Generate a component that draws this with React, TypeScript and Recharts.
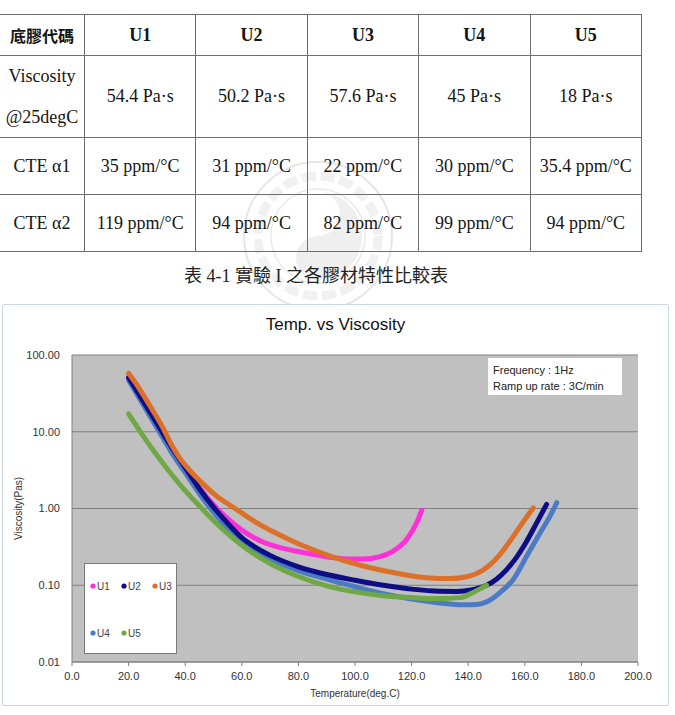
import React from 'react';
import { LineChart, Line, XAxis, YAxis, CartesianGrid, Legend } from 'recharts';

// ---- property table ----
const materials = ['U1', 'U2', 'U3', 'U4', 'U5'];
const viscosityAt25 = ['54.4 Pa·s', '50.2 Pa·s', '57.6 Pa·s', '45 Pa·s', '18 Pa·s'];
const cteAlpha1 = ['35 ppm/°C', '31 ppm/°C', '22 ppm/°C', '30 ppm/°C', '35.4 ppm/°C'];
const cteAlpha2 = ['119 ppm/°C', '94 ppm/°C', '82 ppm/°C', '99 ppm/°C', '94 ppm/°C'];

// ---- viscosity curves (temperature in deg.C, viscosity in Pa·s) ----
const u1Temp = [20, 25, 30, 35, 40, 45, 50, 54, 58, 62, 67, 73, 79, 85, 91, 97, 103, 108.8, 113.5, 118.3, 121.8, 123.6];
const u1Visc = [50.1, 25.1, 12.6, 6.31, 3.39, 1.86, 1.12, 0.794, 0.596, 0.468, 0.372, 0.313, 0.279, 0.253, 0.232, 0.22, 0.219, 0.236, 0.279, 0.398, 0.652, 0.95];

const u2Temp = [20, 25, 30, 35, 40, 45, 50, 55, 60, 65, 70, 80, 90, 100, 110, 120, 130, 136, 141, 146.5, 150, 153.6, 157, 160, 164.2, 167.7];
const u2Visc = [51.1, 25.6, 12.8, 6.43, 3.41, 1.81, 1.04, 0.643, 0.417, 0.309, 0.245, 0.174, 0.138, 0.116, 0.1, 0.089, 0.0836, 0.0832, 0.087, 0.1, 0.12, 0.16, 0.229, 0.339, 0.65, 1.13];

const u3Temp = [20, 24, 28, 32, 35, 38, 42, 46, 51, 57.6, 65, 72, 80, 91.2, 102.9, 114.7, 126.5, 133.6, 139.5, 145.3, 151.2, 156, 160, 163];
const u3Visc = [57.8, 35.5, 20.4, 11.5, 6.92, 4.57, 3.02, 2.14, 1.46, 1.0, 0.661, 0.479, 0.347, 0.24, 0.178, 0.143, 0.124, 0.122, 0.129, 0.158, 0.251, 0.437, 0.716, 1.02];

const u4Temp = [20, 25, 30, 35, 40, 45, 50, 55, 60, 65, 70, 80, 90, 100, 110, 120, 130, 138, 143, 147, 151.2, 156, 160.7, 165.4, 168.9, 171.3];
const u4Visc = [47, 23, 11.3, 5.52, 2.93, 1.56, 0.895, 0.552, 0.372, 0.275, 0.219, 0.155, 0.12, 0.0955, 0.0776, 0.0661, 0.0589, 0.0556, 0.0562, 0.0617, 0.08, 0.12, 0.24, 0.481, 0.794, 1.19];

const u5Temp = [20, 25, 30, 35, 40, 45, 50, 55, 60, 65, 70, 80, 90, 100, 110, 120, 130, 137, 141, 144, 146.5];
const u5Visc = [17.1, 8.97, 4.93, 2.84, 1.71, 1.08, 0.697, 0.471, 0.333, 0.247, 0.192, 0.13, 0.098, 0.082, 0.073, 0.069, 0.067, 0.069, 0.078, 0.089, 0.1];

// ---- axes ----
const xTicks = [0, 20, 40, 60, 80, 100, 120, 140, 160, 180, 200];
const yDecades = [0.01, 0.1, 1, 10, 100];
const yMinor = yDecades.slice(0, -1).flatMap((d) => [2, 3, 4, 5, 6, 7, 8, 9].map((m) => d * m));

const seriesColors: Record<string, string> = {
  U1: '#ff30d8',
  U2: '#0d0d86',
  U3: '#dd7028',
  U4: '#4b7bc4',
  U5: '#6fa845',
};

const toPoints = (temps: number[], visc: number[]) => temps.map((t, i) => ({ t, v: visc[i] }));

// drawing order: later series sit on top
const series = [
  { name: 'U1', data: toPoints(u1Temp, u1Visc) },
  { name: 'U4', data: toPoints(u4Temp, u4Visc) },
  { name: 'U2', data: toPoints(u2Temp, u2Visc) },
  { name: 'U3', data: toPoints(u3Temp, u3Visc) },
  { name: 'U5', data: toPoints(u5Temp, u5Visc) },
];

const sans = "'Liberation Sans', Arial, sans-serif";
const serif = "'Liberation Serif', 'Times New Roman', 'Noto Sans CJK TC', serif";
const cjk = "'Noto Sans CJK TC', sans-serif";

const cellBase: React.CSSProperties = {
  borderRight: '1px solid #6e6e6e',
  borderBottom: '1px solid #6e6e6e',
  display: 'flex',
  alignItems: 'center',
  justifyContent: 'center',
  textAlign: 'center',
  fontFamily: serif,
  fontSize: 18,
  color: '#151515',
  boxSizing: 'border-box',
};

// faint seal printed behind the table (rings and emblem only)
function Seal() {
  return (
    <svg width={160} height={160} style={{ position: 'absolute', left: 238, top: 156 }}>
      <circle cx={80} cy={80} r={74} fill="none" stroke="#e6e6e6" strokeWidth={2} />
      <circle cx={80} cy={80} r={60} fill="none" stroke="#f1f1f1" strokeWidth={9} strokeDasharray="14 5" />
      <circle cx={80} cy={80} r={47} fill="none" stroke="#eaeaea" strokeWidth={1.5} />
      <path d="M 80 36 A 44 44 0 0 1 80 124 A 22 22 0 0 1 80 80 A 22 22 0 0 0 80 36 Z" fill="#efefef" />
    </svg>
  );
}

function PropertyTable() {
  const rowLabels = [
    <span key="v" style={{ lineHeight: '41px' }}>Viscosity<br />@25degC</span>,
    'CTE α1',
    'CTE α2',
  ];
  const rows = [viscosityAt25, cteAlpha1, cteAlpha2];
  return (
    <div
      style={{
        position: 'absolute',
        left: -1,
        top: 14,
        display: 'grid',
        gridTemplateColumns: '85px repeat(5, 111.4px)',
        gridTemplateRows: '41px 82px 57px 57px',
        borderTop: '1px solid #6e6e6e',
        borderLeft: '1px solid #6e6e6e',
      }}
    >
      <div style={{ ...cellBase, fontFamily: cjk, fontWeight: 700, fontSize: 16 }}>底膠代碼</div>
      {materials.map((m) => (
        <div key={m} style={{ ...cellBase, fontWeight: 700 }}>{m}</div>
      ))}
      {rows.map((row, r) => (
        <React.Fragment key={r}>
          <div style={cellBase}>{rowLabels[r]}</div>
          {row.map((val, c) => (
            <div key={c} style={cellBase}>{val}</div>
          ))}
        </React.Fragment>
      ))}
    </div>
  );
}

function LegendBox(props: any) {
  const payload: any[] = props.payload || [];
  const ordered = materials.map((m) => payload.find((p) => p.value === m)).filter(Boolean);
  return (
    <svg width={93} height={91} style={{ display: 'block' }}>
      <rect x={0.5} y={0.5} width={92} height={90} fill="#ffffff" stroke="#7a7a7a" />
      {ordered.map((p, i) => {
        const cx = 9 + (i % 3) * 31;
        const cy = i < 3 ? 23 : 70;
        return (
          <g key={p.value}>
            <circle cx={cx} cy={cy} r={2.6} fill={p.color} />
            <text x={cx + 4} y={cy + 3.5} fontSize={10} fontFamily={sans} fill="#444">
              {p.value}
            </text>
          </g>
        );
      })}
    </svg>
  );
}

function YTitle(props: any) {
  const vb = props.viewBox || {};
  const x = vb.x + 15;
  const y = vb.y + vb.height / 2;
  return (
    <text
      x={x}
      y={y}
      transform={`rotate(-90, ${x}, ${y})`}
      textAnchor="middle"
      dominantBaseline="central"
      fontSize={10}
      fontFamily={sans}
      fill="#333"
    >
      Viscosity(Pas)
    </text>
  );
}

export default function App() {
  return (
    <div style={{ position: 'absolute', left: 0, top: 0, width: 675, height: 715, background: '#fff', overflow: 'hidden' }}>
      <Seal />
      <PropertyTable />

      <div
        style={{
          position: 'absolute',
          left: 0,
          width: 632,
          top: 261,
          textAlign: 'center',
          fontFamily: serif,
          fontSize: 18,
          color: '#222',
        }}
      >
        表 4-1 實驗 I 之各膠材特性比較表
      </div>

      <div
        style={{
          position: 'absolute',
          left: 2,
          top: 304,
          width: 667,
          height: 402,
          boxSizing: 'border-box',
          border: '1px solid #c9d8e2',
          borderRadius: 2,
          background: '#fff',
        }}
      >
        <div
          style={{
            position: 'absolute',
            left: 0,
            width: 665,
            top: 10,
            textAlign: 'center',
            fontFamily: sans,
            fontSize: 17,
            color: '#111',
          }}
        >
          Temp. vs Viscosity
        </div>

        <LineChart width={665} height={400} margin={{ top: 50, right: 30, left: 0, bottom: 0 }}>
          <CartesianGrid vertical={false} stroke="#808080" fill="#c0c0c0" fillOpacity={1} />
          <XAxis
            type="number"
            dataKey="t"
            domain={[0, 200]}
            ticks={xTicks}
            allowDataOverflow
            tickFormatter={(v: number) => v.toFixed(1)}
            height={43}
            tickSize={4}
            tickMargin={6}
            stroke="#808080"
            tick={{ fill: '#333', fontSize: 11, fontFamily: sans }}
            label={{ value: 'Temperature(deg.C)', position: 'insideBottom', offset: 8, fontSize: 10, fontFamily: sans, fill: '#333' }}
          />
          <YAxis
            type="number"
            scale="log"
            domain={[0.01, 100]}
            ticks={yDecades}
            allowDataOverflow
            tickFormatter={(v: number) => v.toFixed(2)}
            width={69}
            tickLine={false}
            tickSize={6}
            tickMargin={6}
            stroke="#808080"
            tick={{ fill: '#333', fontSize: 11, fontFamily: sans }}
            label={{ content: YTitle }}
          />
          <YAxis
            yAxisId="minor"
            type="number"
            scale="log"
            domain={[0.01, 100]}
            ticks={yMinor}
            allowDataOverflow
            orientation="left"
            mirror
            width={0}
            axisLine={false}
            tick={false}
            tickSize={3}
            stroke="#808080"
          />
          <YAxis
            yAxisId="right"
            type="number"
            scale="log"
            domain={[0.01, 100]}
            ticks={yDecades}
            allowDataOverflow
            orientation="right"
            width={0}
            tick={false}
            tickLine={false}
            stroke="#808080"
          />
          {series.map((s) => (
            <Line
              key={s.name}
              data={s.data}
              dataKey="v"
              name={s.name}
              type="monotone"
              stroke={seriesColors[s.name]}
              strokeWidth={5}
              strokeLinecap="round"
              dot={false}
              activeDot={false}
              isAnimationActive={false}
            />
          ))}
          <Legend
            layout="vertical"
            align="center"
            verticalAlign="middle"
            content={LegendBox}
            wrapperStyle={{ left: 81, top: 258, width: 93, height: 91 }}
          />
        </LineChart>

        <div
          style={{
            position: 'absolute',
            left: 485,
            top: 53,
            width: 134,
            height: 37,
            boxSizing: 'border-box',
            background: '#fff',
            padding: '4px 0 0 5px',
            fontFamily: sans,
            fontSize: 11,
            lineHeight: '16px',
            color: '#222',
          }}
        >
          Frequency : 1Hz
          <br />
          Ramp up rate : 3C/min
        </div>
      </div>
    </div>
  );
}
